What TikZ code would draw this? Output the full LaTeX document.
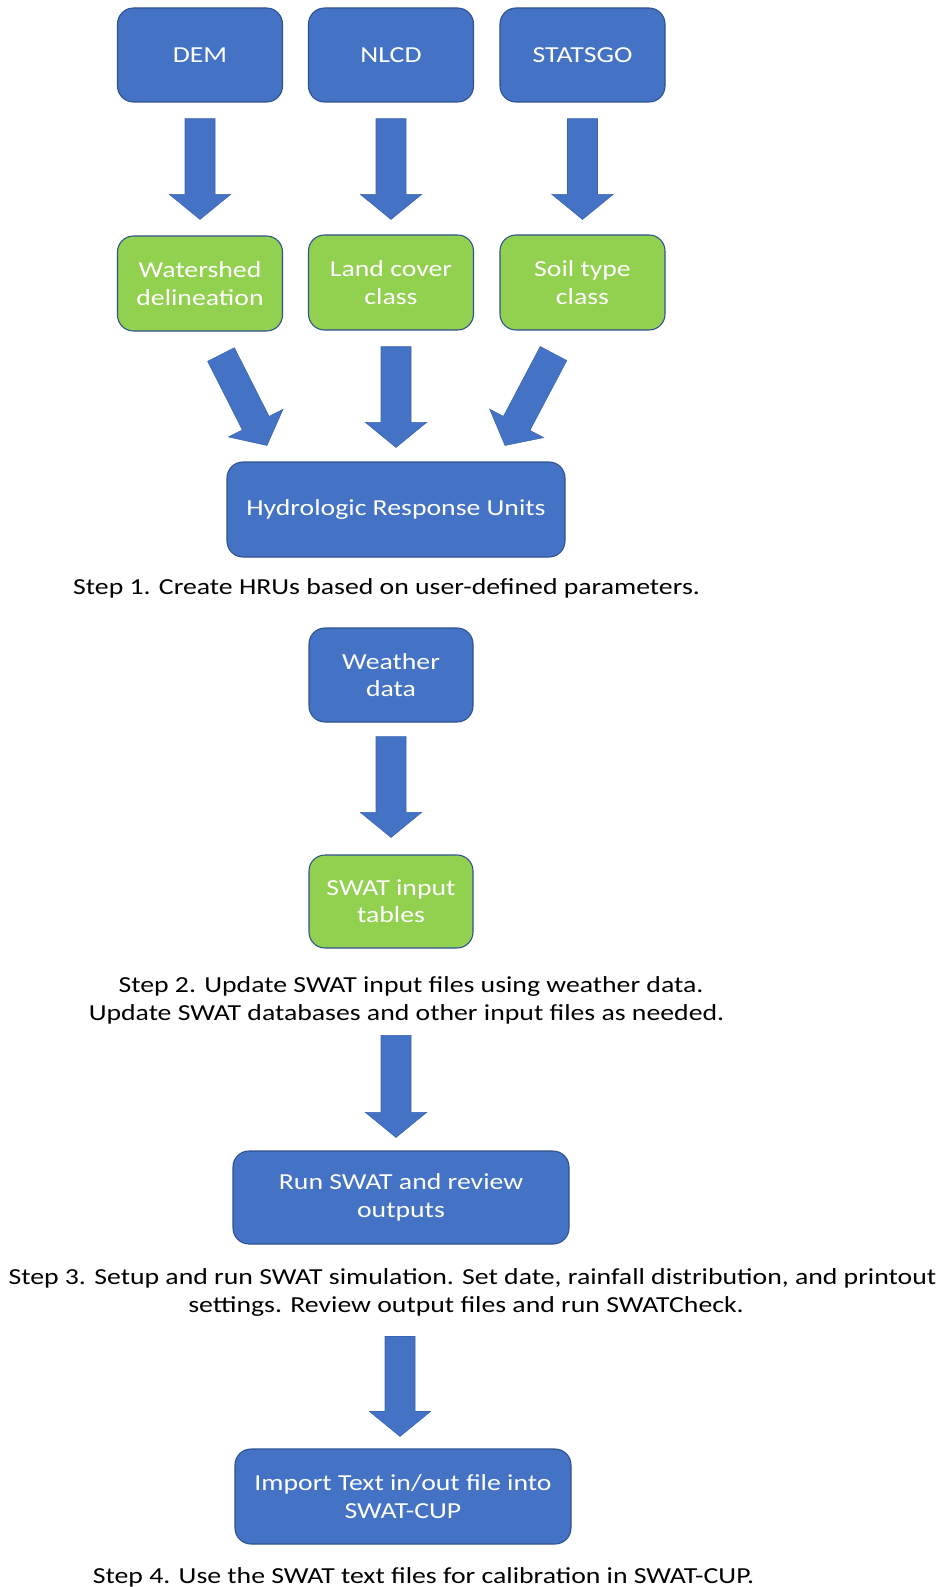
\documentclass[tikz,border=0pt]{standalone}
\usepackage{fontspec}
\setmainfont{Carlito}[FakeStretch=1.21]
\usetikzlibrary{calc}
\definecolor{boxblue}{HTML}{4472C4}
\definecolor{boxedge}{HTML}{2F528F}
\definecolor{boxgreen}{HTML}{92D050}
\definecolor{arrowblue}{HTML}{4472C4}
\definecolor{arrowedge}{HTML}{3A64B0}
\tikzset{
  bluebox/.style={draw=boxedge, line width=0.8pt, fill=boxblue, rounded corners=12pt,
    text=white, align=center, font=\fontsize{17.2}{20.5}\selectfont, inner sep=0pt},
  greenbox/.style={bluebox, fill=boxgreen},
  captext/.style={anchor=base, text=black, inner sep=0pt, font=\fontsize{17.2}{21}\selectfont},
  fatarrowstyle/.style={fill=arrowblue, draw=arrowedge, line width=0.4pt, line join=miter}
}
\newcommand\fatarrow[2]{%
  \path #1 coordinate (fa-s) #2 coordinate (fa-t);
  \path ($(fa-t)!18.75pt!(fa-s)$) coordinate (fa-b);
  \filldraw[fatarrowstyle]
    ($(fa-s)!11.25pt!90:(fa-t)$) -- ($(fa-b)!11.25pt!90:(fa-t)$) --
    ($(fa-b)!22.9pt!90:(fa-t)$) -- (fa-t) --
    ($(fa-b)!22.9pt!-90:(fa-t)$) -- ($(fa-b)!11.25pt!-90:(fa-t)$) --
    ($(fa-s)!11.25pt!-90:(fa-t)$) -- cycle;}
\begin{document}
\begin{tikzpicture}[x=0.75pt, y=-0.75pt]
\fill[white] (0,0) rectangle (940,1587);
\useasboundingbox (0,0) rectangle (940,1587);

% top row
\node[bluebox, minimum width=165*0.75pt, minimum height=94*0.75pt] (dem) at (200,55) {DEM};
\node[bluebox, minimum width=165*0.75pt, minimum height=94*0.75pt] (nlcd) at (391,55) {NLCD};
\node[bluebox, minimum width=165*0.75pt, minimum height=94*0.75pt] (stats) at (582.5,55) {STATSGO};

% green row
\node[greenbox, minimum width=165*0.75pt, minimum height=95*0.75pt] (ws) at (200,283.5) {Watershed\\delineation};
\node[greenbox, minimum width=165*0.75pt, minimum height=95*0.75pt] (lc) at (391,282.5) {Land cover\\class};
\node[greenbox, minimum width=165*0.75pt, minimum height=95*0.75pt] (soil) at (582.5,282.5) {Soil type\\class};

\fatarrow{($(dem.south)+(0,16)$)}{($(ws.north)+(0,-16)$)}
\fatarrow{($(nlcd.south)+(0,16)$)}{($(lc.north)+(0,-15)$)}
\fatarrow{($(stats.south)+(0,16)$)}{($(soil.north)+(0,-15)$)}

% HRU
\node[bluebox, minimum width=338*0.75pt, minimum height=95*0.75pt] (hru) at (396,509.5) {Hydrologic Response Units};
\fatarrow{($(ws.south)+(21,23)$)}{($(hru.north)+(-129,-16)$)}
\fatarrow{($(lc.south)+(5,16)$)}{($(hru.north)+(0,-14)$)}
\fatarrow{($(soil.south)+(-29,23)$)}{($(hru.north)+(109,-16)$)}

\node[captext] (cap1) at (386.5,594) {Step 1. Create HRUs based on user-defined parameters.};

% step 2
\node[bluebox, minimum width=164*0.75pt, minimum height=94*0.75pt] (weather) at (391,675) {Weather\\data};
\node[greenbox, minimum width=164*0.75pt, minimum height=93*0.75pt] (swatin) at (391,901.5) {SWAT input\\tables};
\fatarrow{($(weather.south)+(0,14)$)}{($(swatin.north)+(0,-17)$)}

\node[captext] (cap2a) at (411,992) {Step 2. Update SWAT input files using weather data.};
\node[captext] (cap2b) at (406.5,1020) {Update SWAT databases and other input files as needed.};

% step 3
\node[bluebox, minimum width=336*0.75pt, minimum height=93*0.75pt] (run) at (401,1197.5) {Run SWAT and review\\outputs};
\fatarrow{($(run.north)+(-5,-115)$)}{($(run.north)+(-5,-13)$)}

\node[captext] (cap3a) at (472.5,1284) {Step 3. Setup and run SWAT simulation. Set date, rainfall distribution, and printout};
\node[captext] (cap3b) at (466,1312) {settings. Review output files and run SWATCheck.};

% step 4
\node[bluebox, minimum width=336*0.75pt, minimum height=95*0.75pt] (imp) at (403,1496.5) {Import Text in/out file into\\SWAT-CUP};
\fatarrow{($(imp.north)+(-3,-112)$)}{($(imp.north)+(-3,-12)$)}

\node[captext] (cap4) at (423.5,1583) {Step 4. Use the SWAT text files for calibration in SWAT-CUP.};
\end{tikzpicture}
\end{document}
